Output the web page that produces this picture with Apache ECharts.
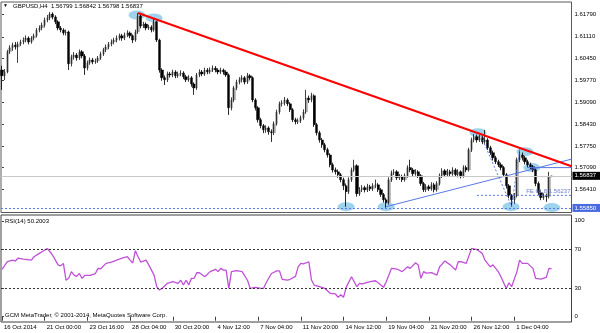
<!DOCTYPE html>
<html><head><meta charset="utf-8">
<script src="https://cdn.jsdelivr.net/npm/echarts@6/dist/echarts.min.js"></script>
<style>html,body{margin:0;padding:0;background:#fff}#c{width:600px;height:333px}</style>
</head><body><div id="c"></div>
<script>
const chartTitle = 'GBPUSD,H4  1.56799 1.56842 1.56798 1.56837';
const rsiTitle = 'RSI(14) 50.2003';
const copyright = 'GCM MetaTrader, \u00a9 2001-2014, MetaQuotes Software Corp.';

const opens = [1.6009,1.5991,1.6003,1.6065,1.6077,1.6086,1.6080,1.6089,1.6095,1.6101,
1.6107,1.6095,1.6107,1.6114,1.6132,1.6138,1.6147,1.6163,1.6169,1.6181,
1.6172,1.6157,1.6138,1.6132,1.6123,1.6126,1.6028,1.6049,1.6055,1.6046,
1.6065,1.6052,1.6015,1.6031,1.6040,1.6034,1.6037,1.6046,1.6058,1.6071,
1.6080,1.6089,1.6095,1.6101,1.6107,1.6114,1.6107,1.6117,1.6123,1.6114,
1.6101,1.6126,1.6175,1.6144,1.6150,1.6138,1.6141,1.6132,1.6157,1.6101,
1.6009,1.5985,1.5979,1.5997,1.5994,1.6003,1.5991,1.5997,1.6000,1.5988,
1.5979,1.5985,1.5966,1.5954,1.5994,1.6003,1.5997,1.6009,1.6003,1.6009,
1.6015,1.6009,1.6003,1.6009,1.6003,1.5994,1.5893,1.5917,1.5954,1.5972,
1.5979,1.5985,1.5972,1.5991,1.5985,1.5917,1.5893,1.5856,1.5838,1.5825,
1.5831,1.5819,1.5816,1.5844,1.5880,1.5905,1.5908,1.5917,1.5905,1.5887,
1.5856,1.5850,1.5853,1.5862,1.5880,1.5923,1.5917,1.5930,1.5841,1.5816,
1.5794,1.5779,1.5764,1.5748,1.5718,1.5702,1.5696,1.5687,1.5672,1.5653,
1.5635,1.5672,1.5702,1.5715,1.5629,1.5641,1.5647,1.5641,1.5650,1.5644,
1.5653,1.5656,1.5641,1.5626,1.5610,1.5601,1.5672,1.5693,1.5696,1.5678,
1.5681,1.5672,1.5684,1.5709,1.5702,1.5690,1.5696,1.5684,1.5660,1.5641,
1.5650,1.5644,1.5656,1.5641,1.5660,1.5684,1.5699,1.5687,1.5696,1.5690,
1.5702,1.5687,1.5696,1.5684,1.5709,1.5702,1.5764,1.5794,1.5804,1.5794,
1.5801,1.5788,1.5794,1.5770,1.5755,1.5739,1.5727,1.5718,1.5709,1.5687,
1.5653,1.5623,1.5610,1.5623,1.5733,1.5748,1.5739,1.5727,1.5718,1.5712,
1.5702,1.5660,1.5632,1.5617,1.5623,1.5620,1.56799];

const closes = [1.5991,1.6003,1.6065,1.6077,1.6086,1.6080,1.6089,1.6095,1.6101,1.6107,
1.6095,1.6107,1.6114,1.6132,1.6138,1.6147,1.6163,1.6169,1.6181,1.6172,
1.6157,1.6138,1.6132,1.6123,1.6126,1.6028,1.6049,1.6055,1.6046,1.6065,
1.6052,1.6015,1.6031,1.6040,1.6034,1.6037,1.6046,1.6058,1.6071,1.6080,
1.6089,1.6095,1.6101,1.6107,1.6114,1.6107,1.6117,1.6123,1.6114,1.6101,
1.6126,1.6175,1.6144,1.6150,1.6138,1.6141,1.6132,1.6157,1.6101,1.6009,
1.5985,1.5979,1.5997,1.5994,1.6003,1.5991,1.5997,1.6000,1.5988,1.5979,
1.5985,1.5966,1.5954,1.5994,1.6003,1.5997,1.6009,1.6003,1.6009,1.6015,
1.6009,1.6003,1.6009,1.6003,1.5994,1.5893,1.5917,1.5954,1.5972,1.5979,
1.5985,1.5972,1.5991,1.5985,1.5917,1.5893,1.5856,1.5838,1.5825,1.5831,
1.5819,1.5816,1.5844,1.5880,1.5905,1.5908,1.5917,1.5905,1.5887,1.5856,
1.5850,1.5853,1.5862,1.5880,1.5923,1.5917,1.5930,1.5841,1.5816,1.5794,
1.5779,1.5764,1.5748,1.5718,1.5702,1.5696,1.5687,1.5672,1.5653,1.5635,
1.5672,1.5702,1.5715,1.5629,1.5641,1.5647,1.5641,1.5650,1.5644,1.5653,
1.5656,1.5641,1.5626,1.5610,1.5601,1.5672,1.5693,1.5696,1.5678,1.5681,
1.5672,1.5684,1.5709,1.5702,1.5690,1.5696,1.5684,1.5660,1.5641,1.5650,
1.5644,1.5656,1.5641,1.5660,1.5684,1.5699,1.5687,1.5696,1.5690,1.5702,
1.5687,1.5696,1.5684,1.5709,1.5702,1.5764,1.5794,1.5804,1.5794,1.5801,
1.5788,1.5794,1.5770,1.5755,1.5739,1.5727,1.5718,1.5709,1.5687,1.5653,
1.5623,1.5610,1.5623,1.5733,1.5748,1.5739,1.5727,1.5718,1.5712,1.5702,
1.5660,1.5632,1.5617,1.5623,1.5620,1.5680,1.56837];

const highs = [1.6022,1.6012,1.6071,1.6085,1.6093,1.6095,1.6096,1.6102,1.6109,1.6115,
1.6112,1.6113,1.6121,1.6138,1.6146,1.6155,1.6170,1.6178,1.6187,1.6186,
1.6177,1.6162,1.6144,1.6137,1.6133,1.6130,1.6056,1.6064,1.6061,1.6072,
1.6070,1.6058,1.6038,1.6047,1.6046,1.6044,1.6052,1.6065,1.6077,1.6087,
1.6095,1.6103,1.6108,1.6115,1.6121,1.6120,1.6124,1.6131,1.6127,1.6118,
1.6133,1.6184,1.6179,1.6157,1.6155,1.6148,1.6146,1.6166,1.6160,1.6105,
1.6014,1.5992,1.6004,1.6003,1.6010,1.6008,1.6004,1.6008,1.6005,1.5994,
1.5993,1.5990,1.5971,1.6000,1.6011,1.6009,1.6016,1.6015,1.6017,1.6023,
1.6021,1.6014,1.6016,1.6013,1.6008,1.5998,1.5925,1.5960,1.5979,1.5987,
1.5993,1.5990,1.6000,1.5996,1.5989,1.5922,1.5898,1.5862,1.5843,1.5839,
1.5836,1.5826,1.5851,1.5887,1.5912,1.5916,1.5926,1.5922,1.5910,1.5892,
1.5862,1.5860,1.5869,1.5888,1.5948,1.5930,1.5939,1.5934,1.5846,1.5822,
1.5800,1.5785,1.5770,1.5753,1.5724,1.5709,1.5703,1.5692,1.5678,1.5660,
1.5679,1.5709,1.5733,1.5719,1.5649,1.5655,1.5653,1.5659,1.5656,1.5661,
1.5672,1.5661,1.5646,1.5631,1.5616,1.5679,1.5700,1.5704,1.5701,1.5689,
1.5687,1.5691,1.5716,1.5733,1.5708,1.5704,1.5701,1.5689,1.5665,1.5658,
1.5656,1.5664,1.5662,1.5667,1.5691,1.5707,1.5704,1.5705,1.5702,1.5710,
1.5707,1.5704,1.5700,1.5716,1.5715,1.5770,1.5801,1.5812,1.5810,1.5809,
1.5806,1.5825,1.5799,1.5776,1.5761,1.5745,1.5733,1.5724,1.5714,1.5692,
1.5658,1.5628,1.5631,1.5740,1.5764,1.5755,1.5745,1.5733,1.5724,1.5717,
1.5707,1.5666,1.5638,1.5630,1.5629,1.5696,1.56842];

const lows = [1.5948,1.5978,1.5999,1.6058,1.6068,1.6072,1.6031,1.6083,1.6088,1.6094,
1.6088,1.6090,1.6100,1.6109,1.6125,1.6131,1.6140,1.6156,1.6162,1.6165,
1.6150,1.6131,1.6125,1.6116,1.6115,1.6009,1.6020,1.6041,1.6038,1.6040,
1.6045,1.5994,1.6008,1.6025,1.6027,1.6028,1.6031,1.6040,1.6052,1.6064,
1.6073,1.6082,1.6088,1.6094,1.6100,1.6099,1.6101,1.6110,1.6107,1.6092,
1.6096,1.6120,1.6137,1.6138,1.6131,1.6132,1.6125,1.6127,1.6095,1.6001,
1.5976,1.5963,1.5972,1.5986,1.5987,1.5984,1.5985,1.5990,1.5981,1.5972,
1.5973,1.5958,1.5933,1.5948,1.5987,1.5990,1.5991,1.5996,1.5997,1.6003,
1.6002,1.5996,1.5997,1.5995,1.5988,1.5871,1.5885,1.5910,1.5947,1.5965,
1.5971,1.5965,1.5966,1.5977,1.5910,1.5885,1.5848,1.5830,1.5815,1.5816,
1.5810,1.5788,1.5809,1.5838,1.5873,1.5897,1.5900,1.5898,1.5880,1.5849,
1.5842,1.5843,1.5846,1.5856,1.5874,1.5908,1.5910,1.5834,1.5808,1.5786,
1.5770,1.5756,1.5740,1.5710,1.5694,1.5688,1.5678,1.5664,1.5640,1.5589,
1.5628,1.5665,1.5696,1.5620,1.5622,1.5634,1.5633,1.5634,1.5637,1.5637,
1.5646,1.5634,1.5619,1.5602,1.5586,1.5595,1.5665,1.5686,1.5671,1.5671,
1.5665,1.5666,1.5678,1.5695,1.5683,1.5684,1.5677,1.5653,1.5634,1.5634,
1.5637,1.5638,1.5633,1.5635,1.5654,1.5677,1.5680,1.5680,1.5683,1.5684,
1.5680,1.5679,1.5676,1.5678,1.5695,1.5697,1.5757,1.5787,1.5786,1.5788,
1.5781,1.5782,1.5763,1.5748,1.5731,1.5720,1.5711,1.5701,1.5680,1.5645,
1.5615,1.5589,1.5598,1.5617,1.5726,1.5731,1.5719,1.5711,1.5704,1.5695,
1.5652,1.5625,1.5609,1.5610,1.5604,1.5614,1.56798];

const rsiBars = [0,2,4,5,6,8,11,12,14,15,17,18,19,21,22,23,24,25,26,27,28,29,30,31,33,35,36,37,39,41,43,45,47,48,49,50,51,52,53,54,55,57,58,59,60,62,64,66,67,68,69,70,71,72,73,74,76,78,80,81,82,83,84,85,86,88,90,92,93,95,97,98,99,101,103,104,105,107,108,110,111,112,113,115,116,117,119,121,123,125,126,127,128,129,131,133,134,135,138,140,142,143,144,146,148,150,152,153,155,156,157,158,159,161,163,164,166,168,170,171,172,174,176,178,180,181,183,184,186,187,189,190,191,193,194,195,197,199,200,202,204,205,206];
const rsiValues = [49.4,57.3,59,58,61,60,59,62.5,66,67.7,71,67.7,64,54,53,55.6,38,40,47,43.4,42,45,40,43,43,45,50.4,50,55.6,57,59,61,62.5,59,56,68.8,62.5,57,58,59,54,43.4,31.3,27.8,29.5,34.8,36.5,34.8,38,33,38,33,40,40,45.8,45.8,41.7,47,49.4,47,50.4,48.6,48.6,29.5,47,48,47,38,29.5,30.6,29.5,29.5,35.4,45,47.8,47.8,39,38.2,39,42,52,55.6,55,57.3,38.2,33,31.3,29.5,24.4,23.7,20.2,22.8,20.2,30.6,41.7,31.3,34.8,34.1,36.5,37.5,33,30.6,36.5,50.4,49.7,47,52,50.4,56.2,54,40,47,45.4,46,43.4,52,58,54,48.6,57.3,57.3,55.6,71.2,70,66,59,52,54,47,41.7,29.5,35.4,31.3,47,59,55.6,55.6,50.4,40,39.2,41,50.4,50.2];

const timeTickBars = [0,16,32,48,64,80,96,112,128,144,160,176,192];
const timeTickLabels = ['16 Oct 2014','21 Oct 00:00','23 Oct 16:00','28 Oct 04:00','30 Oct 20:00','4 Nov 12:00','7 Nov 04:00','11 Nov 20:00','14 Nov 12:00','19 Nov 04:00','21 Nov 20:00','26 Nov 12:00','1 Dec 04:00'];
const priceTicks = [1.6179,1.6111,1.6045,1.5977,1.5909,1.5843,1.5775,1.5709,1.5641];
const rsiTicks = [0,30,70,100];
const rsiLevels = [70,30];

const currentPrice = 1.56837;
const supportLevel = 1.55850;
const feLevel = 1.56237;
const feText = 'FE 61.8 1.56237';
const trendRed = [[51,1.6184],[213.45,1.5713]];
const trendBlue = [[144,1.5589],[213.45,1.5735]];
const levelBlue = [[196.8,1.5709],[213.45,1.5709]];
const feWave = [[179,1.5816],[191,1.5589],[194,1.5764]];
const feLine = [[178,1.56237],[213.45,1.56237]];
const ellipses = [[50.6,1.6178],[57,1.6169],[129,1.5589],[144,1.5589],[178.4,1.5816],[196,1.5758],[198.6,1.5709],[190.8,1.5589],[206.1,1.5586]];

const X_MIN = -0.375, X_MAX = 213.45;
const Y_MIN = 1.5571, Y_MAX = 1.6218;

const rows = opens.map((o, i) => [i, o, closes[i], lows[i], highs[i]]);
const rsiData = rsiBars.map((b, i) => [b, rsiValues[i]]);

const FONT = 'Liberation Sans';
const chart = echarts.init(document.getElementById('c'), null, {renderer: 'canvas'});
const txt = {fontSize: 6, color: '#000', fontFamily: FONT, fontWeight: 'normal'};

chart.setOption({
  animation: false,
  backgroundColor: '#fff',
  textStyle: {fontFamily: FONT},
  title: [
    {text: '\u25BC', left: 3, top: 3.5, padding: 0, textStyle: Object.assign({}, txt, {fontSize: 5})},
    {text: chartTitle, left: 13, top: 3, padding: 0, textStyle: txt},
    {text: rsiTitle, left: 5, top: 218, padding: 0, textStyle: txt},
    {text: copyright, left: 5, top: 312.5, padding: 0, textStyle: txt}
  ],
  grid: [
    {left: 1, right: 28.5, top: 2, height: 210.5, show: true, borderColor: '#5a5a5a', borderWidth: 1},
    {left: 1, right: 28.5, top: 215, height: 107, show: true, borderColor: '#404040', borderWidth: 1}
  ],
  xAxis: [
    {type: 'value', gridIndex: 0, min: X_MIN, max: X_MAX, axisLine: {show: false}, axisTick: {show: false}, axisLabel: {show: false}, splitLine: {show: false}},
    {type: 'value', gridIndex: 1, min: X_MIN, max: X_MAX, splitLine: {show: false},
      axisLine: {show: false},
      axisTick: {show: true, length: 4, lineStyle: {color: '#404040'}, customValues: timeTickBars},
      axisLabel: {show: true, customValues: timeTickBars, align: 'left', margin: 2, padding: [0,0,0,2], fontSize: 6, color: '#000', fontFamily: FONT,
        formatter: v => timeTickLabels[timeTickBars.indexOf(Math.round(v))] || ''}}
  ],
  yAxis: [
    {type: 'value', gridIndex: 0, position: 'right', min: Y_MIN, max: Y_MAX, splitLine: {show: false}, axisLine: {show: false},
      axisTick: {show: true, length: 2, lineStyle: {color: '#404040'}, customValues: priceTicks},
      axisLabel: {show: true, customValues: priceTicks, margin: 3, fontSize: 6, color: '#000', fontFamily: FONT, formatter: v => v.toFixed(5)}},
    {type: 'value', gridIndex: 1, position: 'right', min: -5.5, max: 106, splitLine: {show: false}, axisLine: {show: false},
      axisTick: {show: true, length: 2, lineStyle: {color: '#404040'}, customValues: rsiTicks},
      axisLabel: {show: true, customValues: rsiTicks, margin: 3, fontSize: 6, color: '#000', fontFamily: FONT, formatter: v => String(Math.round(v))}}
  ],
  series: [
    {type: 'scatter', xAxisIndex: 0, yAxisIndex: 0, data: ellipses, symbol: 'circle', symbolSize: [17, 9], z: 1,
      itemStyle: {color: '#87c8e8'}, silent: true},
    {type: 'candlestick', name: 'body', xAxisIndex: 0, yAxisIndex: 0, data: rows, encode: {x: 0, y: [1,2,3,4]}, barWidth: 2.8, z: 2,
      itemStyle: {color: '#a4a4a4', color0: '#000', borderColor: '#a4a4a4', borderColor0: '#000', borderWidth: 0.4},
      markLine: {symbol: 'none', silent: true, animation: false, precision: 5,
        data: [
          {yAxis: currentPrice, lineStyle: {color: '#c8c8c8', width: 1, type: 'solid'},
            label: {show: true, position: 'end', distance: 1, formatter: currentPrice.toFixed(5), color: '#fff', backgroundColor: '#000', fontSize: 6, fontFamily: FONT, padding: [1,4,1,2]}},
          {yAxis: supportLevel, lineStyle: {color: '#5a78e6', width: 1, type: [2,2]},
            label: {show: true, position: 'end', distance: 1, formatter: supportLevel.toFixed(5), color: '#fff', backgroundColor: '#4a6ae0', fontSize: 6, fontFamily: FONT, padding: [1,4,1,2]}}
        ]}},
    {type: 'candlestick', name: 'wick', xAxisIndex: 0, yAxisIndex: 0, data: rows, encode: {x: 0, y: [1,2,3,4]}, barWidth: 0.05, z: 3,
      itemStyle: {color: '#000', color0: '#000', borderColor: '#000', borderColor0: '#000', borderWidth: 0.7}},
    {type: 'line', xAxisIndex: 0, yAxisIndex: 0, data: trendRed, symbol: 'none', z: 5, lineStyle: {color: '#ff0000', width: 2}},
    {type: 'line', xAxisIndex: 0, yAxisIndex: 0, data: trendBlue, symbol: 'none', z: 4, lineStyle: {color: '#5a78e6', width: 1}},
    {type: 'line', xAxisIndex: 0, yAxisIndex: 0, data: levelBlue, symbol: 'none', z: 4, lineStyle: {color: '#5a78e6', width: 1}},
    {type: 'line', xAxisIndex: 0, yAxisIndex: 0, data: feWave, symbol: 'none', z: 4, lineStyle: {color: '#5a78e6', width: 1, type: [2,2]}},
    {type: 'line', xAxisIndex: 0, yAxisIndex: 0, data: feLine, symbol: 'none', z: 4, lineStyle: {color: '#5a78e6', width: 1, type: [2,2]},
      endLabel: {show: true, formatter: feText, color: '#6a80c8', fontSize: 6, fontFamily: FONT, align: 'right', verticalAlign: 'bottom', offset: [-1, -1], distance: 0}},
    {type: 'line', xAxisIndex: 1, yAxisIndex: 1, data: rsiData, symbol: 'none', z: 3, lineStyle: {color: '#c050d8', width: 1.3},
      markLine: {symbol: 'none', silent: true, animation: false, precision: 2, label: {show: false},
        lineStyle: {color: '#333', width: 1, type: [2,2]},
        data: rsiLevels.map(v => ({yAxis: v}))}}
  ]
});
</script></body></html>
